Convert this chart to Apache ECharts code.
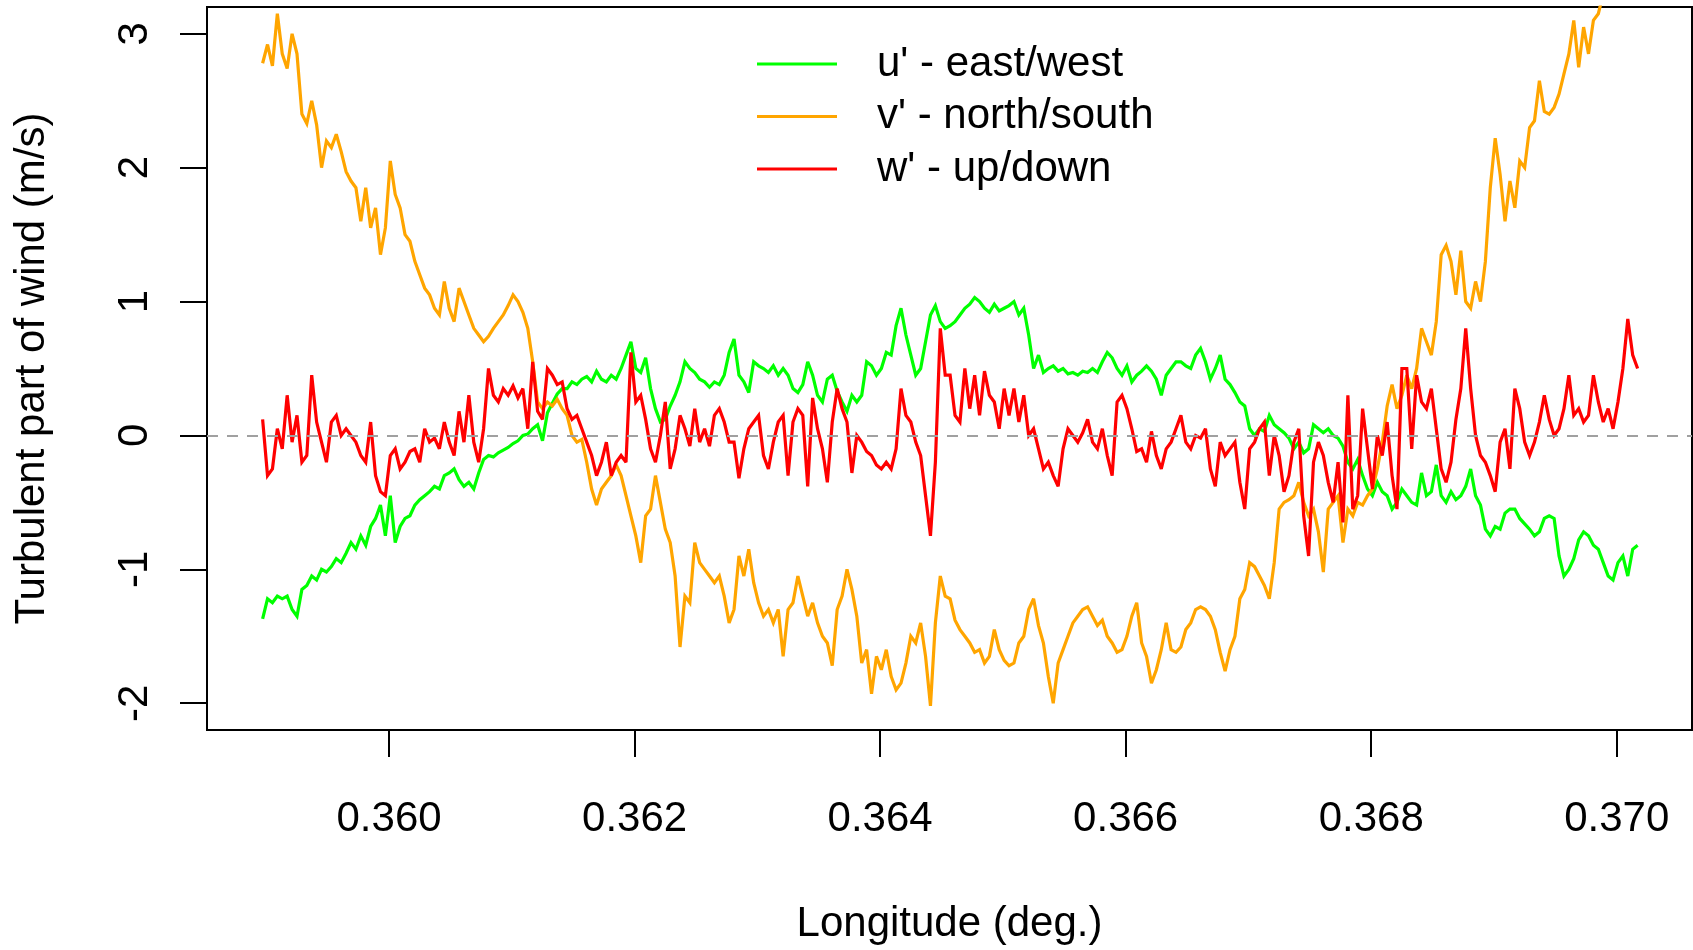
<!DOCTYPE html>
<html>
<head>
<meta charset="utf-8">
<script src="https://cdn.jsdelivr.net/npm/echarts@6/dist/echarts.min.js"></script>
<style>html,body{margin:0;padding:0;background:#fff}#c{width:1693px;height:950px}</style>
</head>
<body>
<div id="c"></div>
<script>
// Sampling grid along the flight track (longitude, degrees)
const LON_START = 0.35897;
const LON_STEP = 0.00004;

// u' - east/west (m/s)
const uWind = [
-1.37,-1.22,-1.25,-1.2,-1.22,-1.2,-1.3,-1.35,-1.15,-1.12,
-1.05,-1.08,-1.0,-1.02,-0.98,-0.92,-0.95,-0.88,-0.8,-0.85,
-0.75,-0.82,-0.68,-0.62,-0.52,-0.75,-0.45,-0.8,-0.68,-0.62,
-0.6,-0.52,-0.48,-0.45,-0.42,-0.38,-0.4,-0.3,-0.28,-0.25,
-0.33,-0.38,-0.35,-0.4,-0.28,-0.18,-0.15,-0.16,-0.13,-0.11,
-0.09,-0.06,-0.04,0.0,0.01,0.05,0.08,-0.04,0.17,0.24,
0.31,0.35,0.35,0.4,0.38,0.42,0.44,0.4,0.48,0.42,
0.4,0.45,0.42,0.5,0.6,0.7,0.5,0.47,0.58,0.35,
0.2,0.1,0.12,0.22,0.3,0.4,0.55,0.5,0.47,0.42,
0.4,0.36,0.4,0.38,0.45,0.62,0.72,0.45,0.4,0.32,
0.55,0.52,0.5,0.47,0.52,0.45,0.5,0.45,0.35,0.32,
0.38,0.55,0.45,0.3,0.25,0.42,0.45,0.33,0.25,0.18,
0.3,0.25,0.3,0.55,0.52,0.45,0.5,0.62,0.6,0.82,
0.95,0.75,0.6,0.45,0.5,0.7,0.9,0.97,0.85,0.8,
0.82,0.85,0.9,0.95,0.98,1.03,1.0,0.95,0.92,0.98,
0.93,0.95,0.97,1.0,0.9,0.95,0.75,0.5,0.6,0.47,
0.5,0.52,0.48,0.5,0.46,0.47,0.45,0.48,0.47,0.5,
0.47,0.55,0.62,0.58,0.5,0.45,0.52,0.4,0.45,0.48,
0.52,0.48,0.42,0.3,0.45,0.5,0.55,0.55,0.52,0.5,
0.6,0.65,0.55,0.42,0.5,0.6,0.42,0.38,0.32,0.25,
0.22,0.05,0.0,0.05,0.03,0.15,0.08,0.05,0.02,-0.02,
-0.1,-0.05,-0.13,-0.1,0.08,0.05,0.02,0.05,0.0,-0.02,
-0.08,-0.2,-0.25,-0.18,-0.3,-0.4,-0.45,-0.35,-0.42,-0.45,
-0.55,-0.5,-0.4,-0.45,-0.5,-0.52,-0.28,-0.45,-0.42,-0.22,
-0.45,-0.5,-0.42,-0.48,-0.45,-0.38,-0.25,-0.45,-0.52,-0.7,
-0.75,-0.68,-0.7,-0.58,-0.55,-0.55,-0.62,-0.66,-0.7,-0.75,
-0.72,-0.62,-0.6,-0.62,-0.9,-1.05,-1.0,-0.92,-0.78,-0.72,
-0.75,-0.82,-0.85,-0.95,-1.05,-1.08,-0.95,-0.9,-1.05,-0.85,-0.82
];

// v' - north/south (m/s)
const vWind = [
2.78,2.92,2.76,3.15,2.85,2.74,3.0,2.85,2.4,2.33,
2.5,2.32,2.0,2.2,2.15,2.25,2.12,1.97,1.9,1.85,
1.6,1.85,1.55,1.7,1.35,1.55,2.05,1.8,1.7,1.5,
1.45,1.3,1.2,1.1,1.05,0.95,0.9,1.15,0.95,0.85,
1.1,1.0,0.9,0.8,0.75,0.7,0.74,0.8,0.85,0.9,
0.97,1.05,1.0,0.92,0.8,0.55,0.25,0.2,0.25,0.22,
0.27,0.2,0.15,0.0,-0.05,-0.03,-0.2,-0.4,-0.52,-0.4,
-0.35,-0.3,-0.22,-0.3,-0.45,-0.6,-0.75,-0.95,-0.6,-0.55,
-0.3,-0.5,-0.7,-0.8,-1.05,-1.58,-1.2,-1.25,-0.8,-0.95,
-1.0,-1.05,-1.1,-1.05,-1.2,-1.4,-1.3,-0.9,-1.05,-0.85,
-1.1,-1.25,-1.35,-1.3,-1.4,-1.3,-1.65,-1.3,-1.25,-1.05,
-1.2,-1.35,-1.25,-1.4,-1.5,-1.55,-1.72,-1.3,-1.2,-1.0,
-1.15,-1.35,-1.7,-1.6,-1.93,-1.65,-1.75,-1.6,-1.8,-1.9,
-1.85,-1.7,-1.5,-1.55,-1.4,-1.65,-2.02,-1.4,-1.05,-1.2,
-1.22,-1.38,-1.45,-1.5,-1.55,-1.62,-1.6,-1.7,-1.65,-1.45,
-1.6,-1.68,-1.72,-1.7,-1.55,-1.5,-1.3,-1.22,-1.42,-1.55,
-1.8,-2.0,-1.7,-1.6,-1.5,-1.4,-1.35,-1.3,-1.28,-1.35,
-1.42,-1.38,-1.5,-1.55,-1.62,-1.6,-1.5,-1.35,-1.25,-1.55,
-1.65,-1.85,-1.75,-1.6,-1.4,-1.6,-1.62,-1.58,-1.45,-1.4,
-1.3,-1.28,-1.3,-1.35,-1.45,-1.62,-1.76,-1.6,-1.5,-1.22,
-1.15,-0.95,-0.98,-1.05,-1.12,-1.22,-0.95,-0.55,-0.5,-0.48,
-0.45,-0.35,-0.5,-0.6,-0.55,-0.72,-1.02,-0.55,-0.5,-0.45,
-0.8,-0.55,-0.6,-0.5,-0.52,-0.45,-0.4,-0.25,-0.05,0.22,
0.38,0.2,0.3,0.45,0.35,0.5,0.8,0.7,0.6,0.85,
1.35,1.42,1.3,1.05,1.38,1.0,0.95,1.15,1.0,1.3,
1.85,2.22,1.95,1.6,1.9,1.7,2.05,2.0,2.3,2.35,
2.65,2.42,2.4,2.45,2.55,2.7,2.85,3.1,2.75,3.05,
2.85,3.1,3.15,3.3,3.4,3.45,3.5,3.55,3.6,3.62,3.65
];

// w' - up/down (m/s)
const wWind = [
0.12,-0.3,-0.25,0.05,-0.1,0.3,-0.05,0.15,-0.2,-0.15,
0.45,0.1,-0.05,-0.2,0.1,0.15,0.0,0.05,0.0,-0.05,
-0.15,-0.2,0.1,-0.3,-0.42,-0.45,-0.15,-0.1,-0.25,-0.2,
-0.12,-0.1,-0.2,0.05,-0.05,-0.02,-0.1,0.1,-0.05,-0.15,
0.18,-0.05,0.3,-0.05,-0.2,0.05,0.5,0.3,0.25,0.35,
0.3,0.37,0.28,0.35,0.05,0.55,0.18,0.12,0.5,0.45,
0.38,0.4,0.2,0.12,0.15,0.05,-0.05,-0.15,-0.3,-0.2,
-0.05,-0.3,-0.2,-0.15,-0.2,0.62,0.25,0.3,0.12,-0.1,
-0.2,0.0,0.25,-0.25,-0.1,0.15,0.05,-0.08,0.2,-0.05,
0.05,-0.08,0.15,0.2,0.1,-0.05,-0.05,-0.32,-0.1,0.05,
0.1,0.15,-0.15,-0.25,-0.05,0.1,0.15,-0.3,0.1,0.2,
0.15,-0.38,0.28,0.05,-0.1,-0.35,0.1,0.35,0.2,0.1,
-0.28,0.0,-0.05,-0.12,-0.15,-0.22,-0.25,-0.2,-0.25,-0.1,
0.35,0.15,0.1,-0.05,-0.15,-0.45,-0.75,-0.2,0.8,0.45,
0.45,0.15,0.1,0.5,0.2,0.45,0.15,0.48,0.3,0.25,
0.05,0.35,0.15,0.35,0.1,0.3,0.0,0.05,-0.1,-0.25,
-0.2,-0.3,-0.38,-0.1,0.05,0.0,-0.05,0.02,0.12,-0.05,
-0.1,0.05,-0.15,-0.3,0.25,0.3,0.2,0.05,-0.12,-0.1,
-0.2,0.03,-0.15,-0.25,-0.1,-0.05,0.05,0.15,-0.05,-0.1,
0.0,-0.02,0.05,-0.25,-0.38,-0.05,-0.15,-0.1,-0.05,-0.35,
-0.55,-0.1,-0.05,0.05,0.1,-0.3,0.0,-0.15,-0.42,-0.3,
-0.05,0.05,-0.6,-0.9,-0.2,-0.05,-0.15,-0.35,-0.5,-0.2,
-0.65,0.3,-0.55,-0.45,0.2,-0.1,-0.4,0.0,-0.15,0.1,
-0.3,-0.55,0.5,0.5,-0.1,0.45,0.25,0.2,0.35,0.05,
-0.25,-0.35,-0.2,0.12,0.35,0.8,0.35,0.0,-0.15,-0.2,
-0.3,-0.42,-0.05,0.05,-0.25,0.35,0.2,-0.05,-0.15,-0.05,
0.1,0.3,0.12,0.0,0.05,0.2,0.45,0.15,0.2,0.1,
0.15,0.45,0.25,0.1,0.2,0.05,0.25,0.5,0.87,0.6,0.5
];

const xTicks = [0.360, 0.362, 0.364, 0.366, 0.368, 0.370];
const yTicks = [-2, -1, 0, 1, 2, 3];
const seriesNames = ["u' - east/west", "v' - north/south", "w' - up/down"];
const seriesColors = ['#00ff00', '#ffa500', '#ff0000'];

const toPoints = arr => arr.map((v, i) => [+(LON_START + i * LON_STEP).toFixed(6), v]);

const FONT = '"Liberation Sans", Arial, Helvetica, sans-serif';
const chart = echarts.init(document.getElementById('c'), null, {renderer: 'canvas'});

const series = [uWind, vWind, wWind].map((arr, k) => ({
  type: 'line',
  name: seriesNames[k],
  data: toPoints(arr),
  symbol: 'none',
  showSymbol: false,
  lineStyle: {color: seriesColors[k], width: 3.2, join: 'miter', miterLimit: 3},
  itemStyle: {color: seriesColors[k]},
  clip: true,
  z: 2 + k
}));
series[2].markLine = {
  silent: true,
  symbol: 'none',
  label: {show: false},
  lineStyle: {type: [11, 9], color: '#a0a0a0', width: 2},
  data: [{yAxis: 0}],
  z: 10
};

chart.setOption({
  animation: false,
  backgroundColor: '#ffffff',
  grid: {left: 207, top: 7, right: 1, bottom: 217, show: true, borderColor: '#000', borderWidth: 2, backgroundColor: 'transparent'},
  xAxis: {
    type: 'value', min: 0.358517, max: 0.370613,
    name: 'Longitude (deg.)', nameLocation: 'middle', nameGap: 173,
    nameTextStyle: {fontFamily: FONT, fontSize: 42, color: '#000'},
    axisLine: {show: false, onZero: false}, splitLine: {show: false},
    axisTick: {show: true, inside: false, length: 27, lineStyle: {color: '#000', width: 2}, customValues: xTicks},
    axisLabel: {customValues: xTicks, formatter: v => v.toFixed(3), margin: 68, fontFamily: FONT, fontSize: 42, color: '#000'}
  },
  yAxis: {
    type: 'value', min: -2.2, max: 3.2,
    name: 'Turbulent part of wind (m/s)', nameLocation: 'middle', nameGap: 154,
    nameTextStyle: {fontFamily: FONT, fontSize: 42, color: '#000'},
    axisLine: {show: false, onZero: false}, splitLine: {show: false},
    axisTick: {show: true, inside: false, length: 27, lineStyle: {color: '#000', width: 2}, customValues: yTicks},
    axisLabel: {customValues: yTicks, rotate: 90, margin: 51, fontFamily: FONT, fontSize: 42, color: '#000'}
  },
  legend: {
    orient: 'vertical', left: 757, top: 43, padding: 0, itemGap: 10.5,
    itemWidth: 80, itemHeight: 3, icon: 'rect',
    textStyle: {fontFamily: FONT, fontSize: 42, color: '#000', padding: [0, 0, 0, 35], lineHeight: 42},
    data: seriesNames
  },
  series: series
});
</script>
</body>
</html>
